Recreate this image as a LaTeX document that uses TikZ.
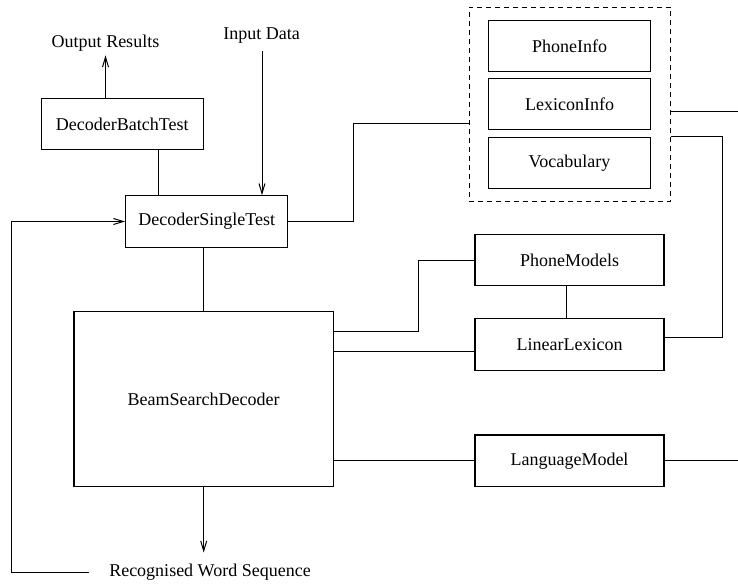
\documentclass[tikz,border=0pt]{standalone}
\usepackage{fontspec}
\setmainfont{Liberation Serif}
\usetikzlibrary{arrows.meta}
\begin{document}
\begin{tikzpicture}[x=1pt,y=-1pt,
  every node/.style={font=\fontsize{18}{22}\selectfont},
  box/.style={draw,line width=1.1pt,inner sep=0pt},
  lbl/.style={inner sep=2pt},
  conn/.style={line width=1pt},
  arr/.style={conn,-{Straight Barb[length=10pt,width=6pt]}},
  grpbox/.style={draw,dashed,dash pattern=on 5pt off 4pt,line width=1pt,inner sep=0pt}]
\useasboundingbox (0,0) rectangle (738,585);
% nodes
\node[box,minimum width=161.5pt,minimum height=51.5pt] (batch) at (122.3,124) {DecoderBatchTest};
\node[box,minimum width=162pt,minimum height=51.5pt] (single) at (206.7,221.5) {DecoderSingleTest};
\node[box,minimum width=259.5pt,minimum height=175pt] (beam) at (203.7,399.2) {BeamSearchDecoder};
\node[grpbox,minimum width=201.7pt,minimum height=194.4pt] (grp) at (569.9,104.5) {};
\node[box,minimum width=162.4pt,minimum height=51.3pt] (pinfo) at (569.5,46.3) {PhoneInfo};
\node[box,minimum width=162.4pt,minimum height=51.3pt] (linfo) at (569.5,104.3) {LexiconInfo};
\node[box,minimum width=162.4pt,minimum height=51.3pt] (vocab) at (569.5,162.8) {Vocabulary};
\node[box,minimum width=189pt,minimum height=51.7pt] (pm) at (569.5,260) {PhoneModels};
\node[box,minimum width=189pt,minimum height=51.7pt] (ll) at (569.5,344.2) {LinearLexicon};
\node[box,minimum width=189pt,minimum height=51.7pt] (lm) at (569.5,460.8) {LanguageModel};
\node[lbl] (out) at (105.5,43) {Output Results};
\node[lbl] (inp) at (261.5,36) {Input Data};
\node[lbl] (rws) at (210,572) {Recognised Word Sequence};
\coordinate (r1) at ([yshift=-6.8pt]grp.east -| 738,0);
\coordinate (r2) at (lm.east -| 738,0);
% connectors
\draw[arr] (out.south |- batch.north) -- ([yshift=-2pt]out.south);
\draw[arr] ([yshift=-5pt]inp.south -| single.north) ++(55.3,0) -- ([xshift=55.3pt]single.north);
\draw[conn] ([xshift=35.7pt]batch.south) -- ([xshift=35.7pt]batch.south |- single.north);
\draw[conn] (beam.north |- single.south) -- (beam.north);
\draw[conn] (single.east) -- ++(65,0) |- ([yshift=-19.5pt]grp.west);
\draw[conn] ([yshift=-6.8pt]grp.east) -- (r1);
\draw[conn] ([yshift=-32.2pt]grp.east) -- ++(51,0) |- ([yshift=6.9pt]ll.east);
\draw[conn] ([yshift=67.5pt]beam.east) -- ++(84,0) |- (pm.west);
\draw[conn] ([yshift=-6.8pt]ll.west) -- ([yshift=-6.8pt]ll.west -| beam.east);
\draw[conn] (lm.west) -- (lm.west -| beam.east);
\draw[conn] (lm.east) -- (r2);
\draw[conn] ([xshift=-2.8pt]pm.south) -- ([xshift=-2.8pt]ll.north);
\draw[arr] (beam.south) -- ([yshift=9pt]rws.north -| beam.south);
\draw[arr] ([xshift=-18pt]rws.west) -- ++(-78,0) |- (single.west);
\end{tikzpicture}
\end{document}
